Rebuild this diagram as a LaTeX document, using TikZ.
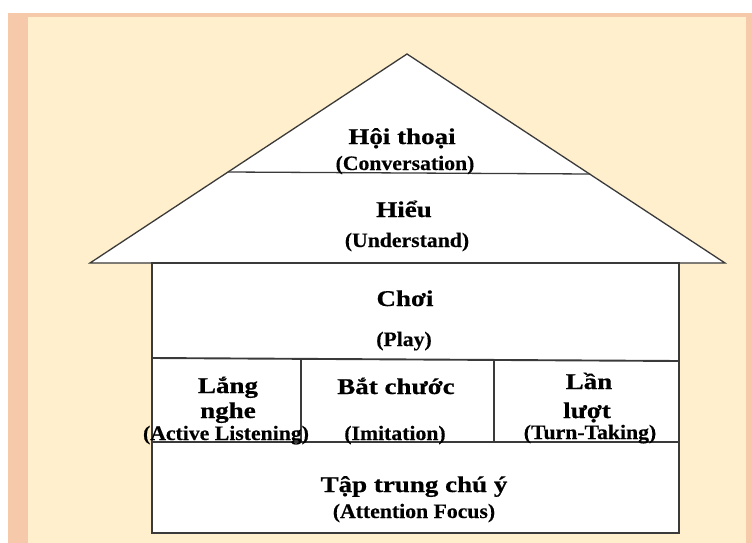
\documentclass[tikz,border=0pt]{standalone}
\usepackage{fontspec}
\setmainfont{Liberation Serif}
\newfontfamily\headfont[FakeStretch=1.2,FakeBold=0.6]{Liberation Serif}
\newfontfamily\subfont[FakeStretch=1.06,FakeBold=0.4]{Liberation Serif}
\definecolor{salmon}{HTML}{F7C9AB}
\definecolor{cream}{HTML}{FFEFCC}
\definecolor{wall}{HTML}{3A3A3A}
\tikzset{
  roofline/.style={draw=wall, line width=1.3pt, line join=miter},
  wallline/.style={draw=wall, line width=1.9pt},
  head/.style={anchor=base, inner sep=0pt, font=\headfont\bfseries\fontsize{22.5}{24}\selectfont, text=black},
  sub/.style={anchor=base, inner sep=0pt, font=\subfont\bfseries\fontsize{20.5}{22}\selectfont, text=black}
}
\begin{document}
\begin{tikzpicture}[x=1pt,y=-1pt]
\useasboundingbox (0,0) rectangle (752,543);
% page frame
\fill[white] (0,0) rectangle (752,543);
\fill[salmon] (8,13) rectangle (752,543);
\fill[cream] (28,17) rectangle (746,543);

% key points of the house
\coordinate (apex) at (407,54);
\coordinate (eaveL) at (90,263);
\coordinate (eaveR) at (725,263);
\coordinate (ridgeL) at (228,172);
\coordinate (ridgeR) at (590,174);
\coordinate (wallTL) at (152,263);
\coordinate (wallBR) at (679,533);
\coordinate (midL) at (152,358);
\coordinate (midR) at (679,361);
\coordinate (lowL) at (152,442);
\coordinate (lowR) at (679,442);
\coordinate (sepAtop) at (301,358);
\coordinate (sepAbot) at (301,442);
\coordinate (sepBtop) at (494,360);
\coordinate (sepBbot) at (494,442);

% roof
\draw[roofline, fill=white] (eaveL) -- (apex) -- (eaveR) -- cycle;
\draw[roofline] (ridgeL) -- (ridgeR);
% walls and floors
\draw[wallline, fill=white] (wallTL) rectangle (wallBR);
\draw[wallline] (midL) -- (midR);
\draw[wallline] (lowL) -- (lowR);
\draw[wallline] (sepAtop) -- (sepAbot);
\draw[wallline] (sepBtop) -- (sepBbot);

% labels
\node[head] (hoithoai) at (402,144) {Hội thoại};
\node[sub]  (conv)     at (405,170) {(Conversation)};
\node[head] (hieu)     at (404,217) {Hiểu};
\node[sub]  (underst)  at (407,247) {(Understand)};
\node[head] (choi)     at (405,306) {Chơi};
\node[sub]  (play)     at (404,346) {(Play)};
\node[head] (lang)     at (228,393) {Lắng};
\node[head] (nghe)     at (228,418) {nghe};
\node[sub]  (active)   at (226,440) {(Active Listening)};
\node[head] (batchuoc) at (396,394) {Bắt chước};
\node[sub]  (imit)     at (395,440) {(Imitation)};
\node[head] (lan)      at (589,389) {Lần};
\node[head] (luot)     at (587,418) {lượt};
\node[sub]  (turn)     at (590,439) {(Turn-Taking)};
\node[head] (taptrung) at (414,492) {Tập trung chú ý};
\node[sub]  (attn)     at (414,518) {(Attention Focus)};
\end{tikzpicture}
\end{document}
